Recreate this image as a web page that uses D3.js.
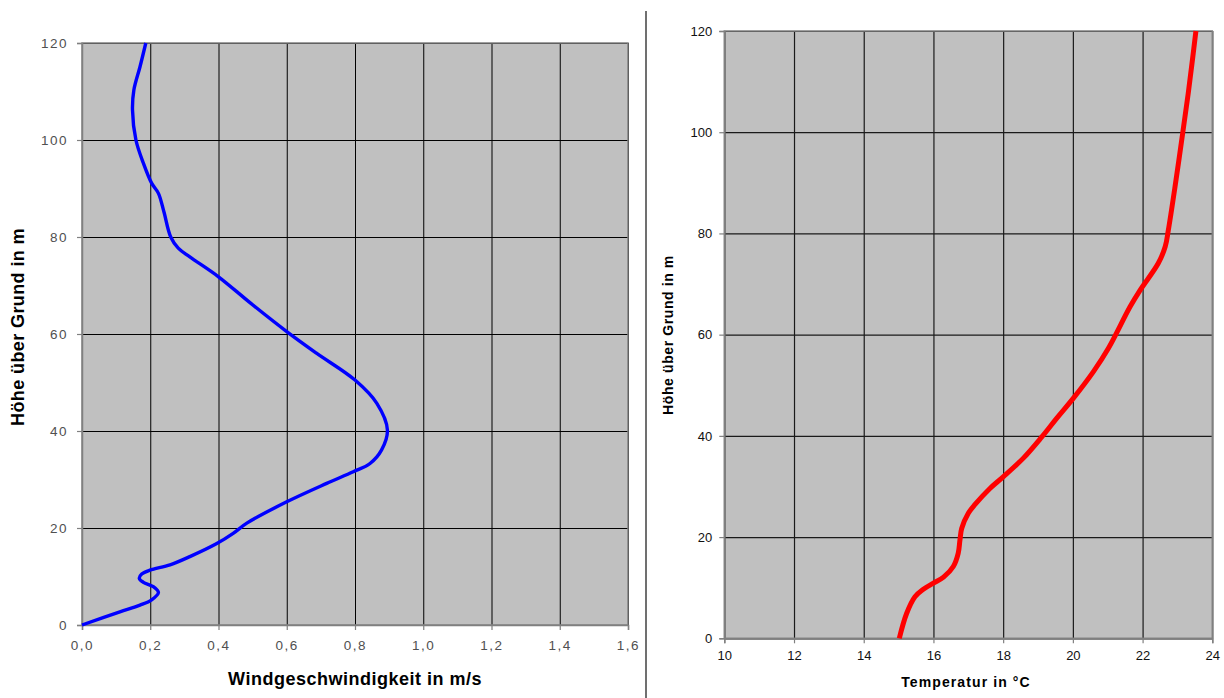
<!DOCTYPE html>
<html><head><meta charset="utf-8">
<script src="https://cdn.jsdelivr.net/npm/d3@7"></script>
<style>
html,body{margin:0;padding:0;background:#fff;}
svg{display:block;}
</style></head>
<body>
<svg id="c" width="1224" height="698"></svg>
<script>
// ---- data ----
const windHeight = [0,2.7,4.1,5.2,6.7,7.9,8.8,9.6,10.5,11.3,12.4,14.1,16.8,18.9,21.0,25.4,29.2,31.6,33.3,36.1,40.2,45.7,50.5,56.0,60.5,66.3,71.8,75.9,77.7,80,85.2,89,91.1,95.2,100,106.2,110.3,115.1,120];
const windSpeed  = [0,0.111,0.170,0.204,0.224,0.209,0.180,0.168,0.175,0.199,0.258,0.316,0.395,0.443,0.483,0.600,0.717,0.795,0.844,0.878,0.895,0.864,0.800,0.688,0.600,0.495,0.400,0.316,0.282,0.260,0.240,0.224,0.204,0.180,0.158,0.148,0.152,0.170,0.187];
const tempHeight = [0,4.9,8.2,9.7,10.9,12.1,14.2,16.8,19.4,21.7,24.7,26.5,29.6,31.9,35.6,39.8,43.5,47.4,52.7,57.3,65.5,68.8,74.1,77.4,80.7,89.2,99.8,107.7,114.3,120];
const tempValue  = [15.02,15.23,15.47,15.71,16.0,16.29,16.57,16.71,16.76,16.81,17.0,17.2,17.62,18.0,18.58,19.11,19.54,20.01,20.59,21.02,21.64,21.93,22.45,22.65,22.74,22.93,23.15,23.31,23.43,23.53];
const windTicks = [0,0.2,0.4,0.6,0.8,1.0,1.2,1.4,1.6];
const heightTicks = [0,20,40,60,80,100,120];
const tempTicks = [10,12,14,16,18,20,22,24];
const windXLabel = "Windgeschwindigkeit in m/s";
const tempXLabel = "Temperatur in °C";
const yLabel = "Höhe über Grund in m";

const svg = d3.select("#c");
const fmtComma = d => d3.format(".1f")(d).replace(".", ",");

// divider
svg.append("line").attr("x1",646).attr("x2",646).attr("y1",11).attr("y2",698)
  .attr("stroke","#404040").attr("stroke-width",1.5);

function panel(opt){
  const g = svg.append("g");
  const x = d3.scaleLinear().domain(opt.xDomain).range([opt.left, opt.right]);
  const y = d3.scaleLinear().domain([0,120]).range([opt.bottom, opt.top]);
  g.append("rect").attr("x",opt.left).attr("y",opt.top)
    .attr("width",opt.right-opt.left).attr("height",opt.bottom-opt.top)
    .attr("fill","#C0C0C0");
  // grid
  const gx = g.append("g").attr("transform",`translate(0,${opt.bottom})`)
    .call(d3.axisBottom(x).tickValues(opt.xTicks).tickSize(-(opt.bottom-opt.top)).tickFormat(""));
  gx.select(".domain").remove();
  gx.selectAll("line").attr("stroke",opt.gridColor).attr("stroke-width",opt.gridWidth);
  const gy = g.append("g").attr("transform",`translate(${opt.left},0)`)
    .call(d3.axisLeft(y).tickValues(heightTicks).tickSize(-(opt.right-opt.left)).tickFormat(""));
  gy.select(".domain").remove();
  gy.selectAll("line").attr("stroke",opt.gridColor).attr("stroke-width",opt.gridWidth);
  // border
  g.append("rect").attr("x",opt.left).attr("y",opt.top)
    .attr("width",opt.right-opt.left).attr("height",opt.bottom-opt.top)
    .attr("fill","none").attr("stroke","#808080").attr("stroke-width",1.5);
  // axes
  const ax = g.append("g").attr("transform",`translate(0,${opt.bottom})`)
    .call(d3.axisBottom(x).tickValues(opt.xTicks).tickSize(5).tickPadding(opt.xPad).tickFormat(opt.xFmt));
  ax.select(".domain").attr("stroke","#808080").attr("stroke-width",1.5);
  ax.selectAll("line").attr("stroke","#808080").attr("stroke-width",1.2);
  ax.selectAll("text").attr("fill",opt.tickColor).style("font-family","'Liberation Sans',Arial,sans-serif")
    .style("font-size",opt.tickSize+"px").style("letter-spacing",opt.tickLS+"px");
  const ay = g.append("g").attr("transform",`translate(${opt.left},0)`)
    .call(d3.axisLeft(y).tickValues(heightTicks).tickSize(5).tickPadding(opt.yPad));
  ay.select(".domain").attr("stroke","#808080").attr("stroke-width",1.5);
  ay.selectAll("line").attr("stroke","#808080").attr("stroke-width",1.2);
  ay.selectAll("text").attr("fill",opt.tickColor).style("font-family","'Liberation Sans',Arial,sans-serif")
    .style("font-size",opt.tickSize+"px").style("letter-spacing",opt.tickLS+"px");
  // curve
  const pts = opt.hs.map((h,i)=>[opt.vs[i],h]);
  const line = d3.line().x(d=>x(d[0])).y(d=>y(d[1])).curve(d3.curveCatmullRom.alpha(0.5));
  g.append("path").datum(pts).attr("d",line).attr("fill","none")
    .attr("stroke",opt.color).attr("stroke-width",opt.lineWidth)
    .attr("stroke-linejoin","round").attr("stroke-linecap","butt");
  // labels
  g.append("text").attr("x",opt.xlX).attr("y",opt.xlY).attr("text-anchor","middle")
    .style("font-family","'Liberation Sans',Arial,sans-serif").style("font-weight","bold")
    .style("font-size",opt.labSize+"px").style("letter-spacing",opt.xlLS+"px")
    .text(opt.xLabel);
  g.append("text").attr("transform",`translate(${opt.ylX},${opt.ylY}) rotate(-90)`).attr("text-anchor","middle")
    .style("font-family","'Liberation Sans',Arial,sans-serif").style("font-weight","bold")
    .style("font-size",opt.labSize+"px").style("letter-spacing",opt.ylLS+"px")
    .text(yLabel);
}

panel({xDomain:[0,1.6], left:82, right:628, top:43, bottom:625, xTicks:windTicks,
  xFmt:fmtComma, gridColor:"#000", gridWidth:1, tickColor:"#505050", tickSize:13.5, tickLS:1.5,
  xPad:10, yPad:9, hs:windHeight, vs:windSpeed, color:"#0000FF", lineWidth:3.4,
  xLabel:windXLabel, xlX:355, xlY:685, ylX:24, ylY:327, labSize:18, xlLS:0.5, ylLS:0.4});

panel({xDomain:[10,24], left:724.3, right:1212.3, top:31, bottom:638.3, xTicks:tempTicks,
  xFmt:d3.format("d"), gridColor:"#1a1a1a", gridWidth:1.2, tickColor:"#111", tickSize:13, tickLS:0,
  xPad:7, yPad:7, hs:tempHeight, vs:tempValue, color:"#FF0000", lineWidth:5,
  xLabel:tempXLabel, xlX:966, xlY:687, ylX:673, ylY:335, labSize:14, xlLS:1.1, ylLS:0.6});
</script>
</body></html>
